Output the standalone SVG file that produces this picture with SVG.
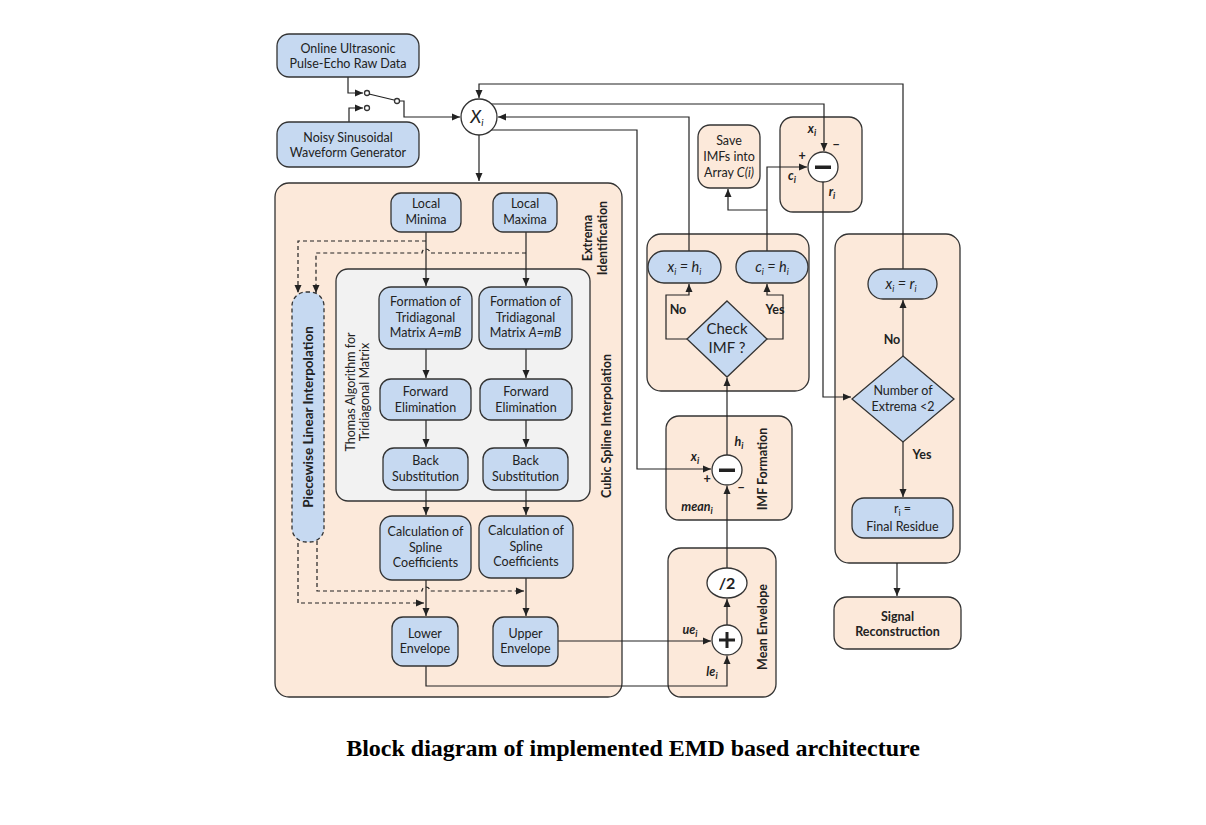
<svg xmlns="http://www.w3.org/2000/svg" width="1206" height="825" viewBox="0 0 1206 825">
<style>
.blue{fill:#c6d9f1;stroke:#333;stroke-width:1.3}
.peach{fill:#fce9da;stroke:#333;stroke-width:1.3}
.gray{fill:#f2f2f2;stroke:#333;stroke-width:1.3}
.wh{fill:#fff;stroke:#333;stroke-width:1.3}
.t{font-family:Lato,"Open Sans",sans-serif;font-size:12.5px;fill:#222;text-anchor:middle}
.b{font-weight:bold}
.i{font-style:italic}
.ln{fill:none;stroke:#222;stroke-width:1.2}
.d{stroke-dasharray:4 3}
.bar{fill:#222}
</style>
<defs>
<marker id="a" markerUnits="userSpaceOnUse" markerWidth="8" markerHeight="8" refX="8" refY="4" orient="auto"><path d="M0,0.5 L8,4 L0,7.5 z" fill="#222"/></marker>
</defs>
<rect width="1206" height="825" fill="#fff"/>

<g id="panels">
<rect id="spline-panel" class="peach" x="275" y="183" width="347" height="514" rx="14"/>
<rect id="thomas-panel" class="gray" x="336" y="269" width="254" height="232" rx="12"/>
<rect id="check-panel" class="peach" x="647" y="234" width="162" height="157" rx="14"/>
<rect id="sub-panel" class="peach" x="780" y="117" width="82" height="95" rx="13"/>
<rect id="imf-panel" class="peach" x="666" y="416" width="126" height="104" rx="13"/>
<rect id="mean-panel" class="peach" x="668" y="548" width="108" height="149" rx="13"/>
<rect id="res-panel" class="peach" x="835" y="234" width="125" height="329" rx="14"/>
</g>

<g id="connectors">
<path class="ln" d="M348,77 V93 H363" marker-end="url(#a)"/>
<path class="ln" d="M349,122 V108 H363" marker-end="url(#a)"/>
<circle class="wh" cx="367" cy="93" r="2.5"/>
<circle class="wh" cx="367" cy="108" r="2.5"/>
<line class="ln" x1="369" y1="94" x2="394" y2="100"/>
<circle class="wh" cx="397" cy="101" r="2.5"/>
<path class="ln" d="M399.5,101 H404 V117 H460" marker-end="url(#a)"/>
<path class="ln" d="M479,135 V181" marker-end="url(#a)"/>
<path class="ln" d="M903,269 V84 H479 V98" marker-end="url(#a)"/>
<path class="ln" d="M491,104 H824 V151" marker-end="url(#a)"/>
<path class="ln" d="M689,251 V117 H498" marker-end="url(#a)"/>
<path class="ln" d="M491,130 H637 V469 H711" marker-end="url(#a)"/>
<path class="ln" d="M426,232 V286" marker-end="url(#a)"/>
<path class="ln" d="M526,232 V286" marker-end="url(#a)"/>
<path class="ln" d="M426,349 V378" marker-end="url(#a)"/>
<path class="ln" d="M526,349 V378" marker-end="url(#a)"/>
<path class="ln" d="M426,420 V447" marker-end="url(#a)"/>
<path class="ln" d="M526,420 V447" marker-end="url(#a)"/>
<path class="ln" d="M426,490 V515" marker-end="url(#a)"/>
<path class="ln" d="M526,490 V515" marker-end="url(#a)"/>
<path class="ln" d="M426,580 V616" marker-end="url(#a)"/>
<path class="ln" d="M526,578 V616" marker-end="url(#a)"/>
<path class="ln d" d="M426,241 H298 V293" marker-end="url(#a)"/>
<path class="ln d" d="M526,253 H430 A4,4 0 0 0 422,253 H316 V293" marker-end="url(#a)"/>
<path class="ln d" d="M317,541 V591 H422 A4,4 0 0 1 430,591 H524" marker-end="url(#a)"/>
<path class="ln d" d="M298,536 V603 H424" marker-end="url(#a)"/>
<path class="ln" d="M558,641 H711" marker-end="url(#a)"/>
<path class="ln" d="M426,666 V686 H727 V656" marker-end="url(#a)"/>
<path class="ln" d="M727,625 V599" marker-end="url(#a)"/>
<path class="ln" d="M727,568 V486" marker-end="url(#a)"/>
<path class="ln" d="M727,455 V378" marker-end="url(#a)"/>
<path class="ln" d="M687,339 H666 V295 H689 V284" marker-end="url(#a)"/>
<path class="ln" d="M767,339 H783 V295 H767 V284" marker-end="url(#a)"/>
<path class="ln" d="M767,251 V167 H807" marker-end="url(#a)"/>
<path class="ln" d="M767,210 H728 V189" marker-end="url(#a)"/>
<path class="ln" d="M823,182 V397 H851" marker-end="url(#a)"/>
<path class="ln" d="M903,442 V497" marker-end="url(#a)"/>
<path class="ln" d="M903,356 V300" marker-end="url(#a)"/>
<path class="ln" d="M897,563 V596" marker-end="url(#a)"/>
</g>

<g id="online">
<rect class="blue" x="277" y="34" width="142" height="43" rx="12"/>
<text class="t" x="348" y="53">Online Ultrasonic</text>
<text class="t" x="348" y="68">Pulse-Echo Raw Data</text>
</g>
<g id="noisy">
<rect class="blue" x="277" y="122" width="142" height="45" rx="12"/>
<text class="t" x="348" y="142">Noisy Sinusoidal</text>
<text class="t" x="348" y="157">Waveform Generator</text>
</g>
<g id="xi">
<circle class="wh" cx="479" cy="117" r="18"/>
<text class="t i" x="477" y="123" style="font-size:18px">X<tspan style="font-size:10px" dy="3">i</tspan></text>
</g>

<g id="local-minima">
<rect class="blue" x="391" y="193" width="70" height="39" rx="10"/>
<text class="t" x="426" y="208">Local</text>
<text class="t" x="426" y="224">Minima</text>
</g>
<g id="local-maxima">
<rect class="blue" x="493" y="193" width="64" height="39" rx="10"/>
<text class="t" x="525" y="208">Local</text>
<text class="t" x="525" y="224">Maxima</text>
</g>
<text class="t b" transform="translate(592,238) rotate(-90)">Extrema</text>
<text class="t b" transform="translate(607,238) rotate(-90)">Identification</text>
<text class="t" transform="translate(355,392) rotate(-90)">Thomas Algorithm for</text>
<text class="t" transform="translate(369,392) rotate(-90)">Tridiagonal Matrix</text>
<text class="t b" transform="translate(611,426) rotate(-90)">Cubic Spline Interpolation</text>

<g id="piecewise">
<rect class="blue d" x="292" y="292" width="32" height="250" rx="14"/>
<text class="t b" transform="translate(313,417) rotate(-90)" style="font-size:13.5px">Piecewise Linear Interpolation</text>
</g>

<g id="formation-l">
<rect class="blue" x="379" y="287" width="93" height="62" rx="12"/>
<text class="t" x="425.5" y="306">Formation of</text>
<text class="t" x="425.5" y="322">Tridiagonal</text>
<text class="t" x="425.5" y="337">Matrix <tspan class="i">A=mB</tspan></text>
</g>
<g id="formation-r">
<rect class="blue" x="479" y="287" width="93" height="62" rx="12"/>
<text class="t" x="525.5" y="306">Formation of</text>
<text class="t" x="525.5" y="322">Tridiagonal</text>
<text class="t" x="525.5" y="337">Matrix <tspan class="i">A=mB</tspan></text>
</g>
<g id="forward-l">
<rect class="blue" x="380" y="379" width="91" height="41" rx="11"/>
<text class="t" x="425.5" y="396">Forward</text>
<text class="t" x="425.5" y="412">Elimination</text>
</g>
<g id="forward-r">
<rect class="blue" x="480" y="379" width="92" height="41" rx="11"/>
<text class="t" x="526" y="396">Forward</text>
<text class="t" x="526" y="412">Elimination</text>
</g>
<g id="back-l">
<rect class="blue" x="383" y="448" width="85" height="42" rx="11"/>
<text class="t" x="425.5" y="465">Back</text>
<text class="t" x="425.5" y="481">Substitution</text>
</g>
<g id="back-r">
<rect class="blue" x="483" y="448" width="85" height="42" rx="11"/>
<text class="t" x="525.5" y="465">Back</text>
<text class="t" x="525.5" y="481">Substitution</text>
</g>
<g id="calc-l">
<rect class="blue" x="380" y="516" width="91" height="64" rx="12"/>
<text class="t" x="425.5" y="536">Calculation of</text>
<text class="t" x="425.5" y="552">Spline</text>
<text class="t" x="425.5" y="567">Coefficients</text>
</g>
<g id="calc-r">
<rect class="blue" x="479" y="516" width="94" height="62" rx="12"/>
<text class="t" x="526" y="535">Calculation of</text>
<text class="t" x="526" y="551">Spline</text>
<text class="t" x="526" y="566">Coefficients</text>
</g>
<g id="lower-env">
<rect class="blue" x="392" y="617" width="66" height="49" rx="11"/>
<text class="t" x="425" y="638">Lower</text>
<text class="t" x="425" y="653">Envelope</text>
</g>
<g id="upper-env">
<rect class="blue" x="493" y="617" width="65" height="49" rx="11"/>
<text class="t" x="525.5" y="638">Upper</text>
<text class="t" x="525.5" y="653">Envelope</text>
</g>

<g id="mean-envelope">
<text class="t b" transform="translate(767,627) rotate(-90)">Mean Envelope</text>
<circle class="wh" cx="727" cy="640" r="15"/>
<rect class="bar" x="719" y="638.5" width="16" height="3"/>
<rect class="bar" x="725.5" y="632" width="3" height="16"/>
<ellipse class="wh" cx="727" cy="583" rx="20" ry="15"/>
<text class="t b" x="727" y="589" style="font-size:16px">/2</text>
<text class="t b i" x="690" y="634">ue<tspan style="font-size:9px" dy="3">i</tspan></text>
<text class="t b i" x="712" y="676">le<tspan style="font-size:9px" dy="3">i</tspan></text>
</g>

<g id="imf-formation">
<text class="t b" transform="translate(767,469) rotate(-90)">IMF Formation</text>
<circle class="wh" cx="727" cy="470" r="15"/>
<rect class="bar" x="719" y="468.5" width="16" height="3.5"/>
<text class="t b i" x="695" y="461">x<tspan style="font-size:9px" dy="3">i</tspan></text>
<text class="t b i" x="739" y="446">h<tspan style="font-size:9px" dy="3">i</tspan></text>
<text class="t b" x="707" y="483">+</text>
<text class="t b" x="741" y="492">−</text>
<text class="t b i" x="697" y="511">mean<tspan style="font-size:9px" dy="3">i</tspan></text>
</g>

<g id="check-imf">
<polygon class="blue" points="727,301 767,339 727,377 687,339"/>
<text class="t" x="727" y="334" style="font-size:15px">Check</text>
<text class="t" x="727" y="353" style="font-size:15px">IMF ?</text>
<text class="t b" x="678" y="314">No</text>
<text class="t b" x="775" y="314">Yes</text>
</g>
<g id="xi-hi">
<rect class="blue" x="648" y="251" width="73" height="32" rx="16"/>
<text class="t i" x="684.5" y="272" style="font-size:14.5px">x<tspan style="font-size:9px" dy="3">i</tspan><tspan dy="-3"> = h</tspan><tspan style="font-size:9px" dy="3">i</tspan></text>
</g>
<g id="ci-hi">
<rect class="blue" x="736" y="251" width="72" height="32" rx="16"/>
<text class="t i" x="772" y="272" style="font-size:14.5px">c<tspan style="font-size:9px" dy="3">i</tspan><tspan dy="-3"> = h</tspan><tspan style="font-size:9px" dy="3">i</tspan></text>
</g>
<g id="save-imfs">
<rect class="peach" x="698" y="125" width="62" height="63" rx="12"/>
<text class="t" x="729" y="145">Save</text>
<text class="t" x="729" y="161">IMFs into</text>
<text class="t" x="729" y="177">Array <tspan class="i">C(i)</tspan></text>
</g>
<g id="residue-sub">
<circle class="wh" cx="823" cy="167" r="15"/>
<rect class="bar" x="815" y="165.5" width="16" height="3.5"/>
<text class="t b i" x="812" y="133">x<tspan style="font-size:9px" dy="3">i</tspan></text>
<text class="t b" x="836" y="149">−</text>
<text class="t b" x="802" y="160">+</text>
<text class="t b i" x="792" y="180">c<tspan style="font-size:9px" dy="3">i</tspan></text>
<text class="t b i" x="832" y="196">r<tspan style="font-size:9px" dy="3">i</tspan></text>
</g>

<g id="xi-ri">
<rect class="blue" x="868" y="269" width="69" height="30" rx="15"/>
<text class="t i" x="901" y="289" style="font-size:14.5px">x<tspan style="font-size:9px" dy="3">i</tspan><tspan dy="-3"> = r</tspan><tspan style="font-size:9px" dy="3">i</tspan></text>
</g>
<g id="extrema-check">
<polygon class="blue" points="903,356 954,399 903,442 852,399"/>
<text class="t" x="903" y="395">Number of</text>
<text class="t" x="903" y="411">Extrema &lt;2</text>
<text class="t b" x="892" y="344">No</text>
<text class="t b" x="922" y="459">Yes</text>
</g>
<g id="final-residue">
<rect class="blue" x="852" y="498" width="101" height="40" rx="12"/>
<text class="t" x="902.5" y="513">r<tspan style="font-size:9px" dy="3">i</tspan><tspan dy="-3"> =</tspan></text>
<text class="t" x="902.5" y="531">Final Residue</text>
</g>
<g id="signal-recon">
<rect class="peach" x="834" y="597" width="127" height="52" rx="13"/>
<text class="t b" x="897.5" y="621">Signal</text>
<text class="t b" x="897.5" y="636">Reconstruction</text>
</g>

<text x="633" y="756" style="font-family:'Liberation Serif',serif;font-weight:bold;font-size:24px;text-anchor:middle;fill:#000">Block diagram of implemented EMD based architecture</text>
</svg>
